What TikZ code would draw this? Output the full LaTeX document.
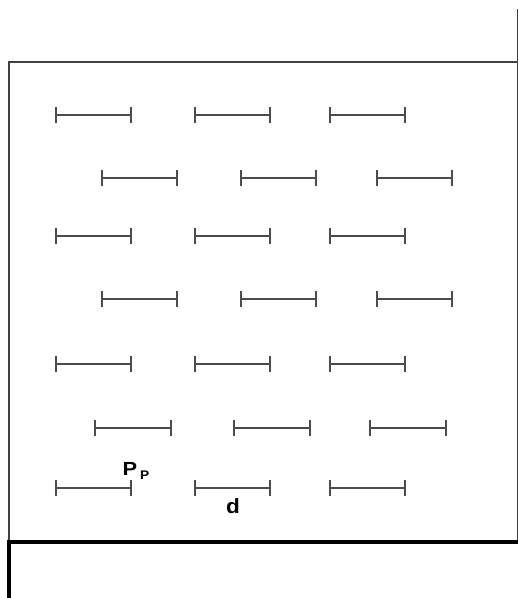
\documentclass[tikz,border=0pt]{standalone}
\usepackage{fontspec}
\setmainfont{Liberation Sans}
\usetikzlibrary{arrows.meta}
\begin{document}
\begin{tikzpicture}[x=1pt,y=-1pt,
  seg/.style={draw=black!70, line width=1.8pt, {Bar[width=16pt,line width=1.8pt]}-{Bar[width=16pt,line width=1.8pt]}},
  frame/.style={draw=black!75, line width=1.6pt},
  thick frame/.style={draw=black, line width=3.5pt},
  lbl/.style={inner sep=0pt, font=\bfseries}]
\useasboundingbox (0,0) rectangle (519,598);
% frame
\coordinate (tl) at (9,62);
\coordinate (tr) at (517.5,62);
\coordinate (top) at (517.5,9);
\coordinate (br) at (517.5,542);
\coordinate (bl) at (9,542);
\coordinate (bot) at (9,598);
\draw[frame] (top) -- (br);
\draw[frame] (br) -- (bl) -- (tl) -- (tr);
\draw[thick frame] (br) -- (bl);
\draw[thick frame] (9,540.3) -- (bot);
% segments
\foreach \y in {115,236,364,488}{
  \foreach \x in {55,194,329}{
    \draw[seg] (\x,\y) -- ++(77,0);
  }
}
\foreach \y in {178,299}{
  \foreach \x in {101,240,376}{
    \draw[seg] (\x,\y) -- ++(77,0);
  }
}
\foreach \x in {94,233,369}{
  \draw[seg] (\x,428) -- ++(78,0);
}
% labels
\node[lbl, font=\bfseries\fontsize{19}{19}\selectfont, anchor=base west, xscale=1.15] (P) at (122.5,475) {P};
\node[lbl, font=\bfseries\fontsize{12.5}{12.5}\selectfont, anchor=base west, xscale=1.1] (Pp) at (140,479) {P};
\node[lbl, font=\bfseries\fontsize{20.5}{20.5}\selectfont, anchor=base, xscale=1.1] (d) at (233,513) {d};
\end{tikzpicture}
\end{document}
